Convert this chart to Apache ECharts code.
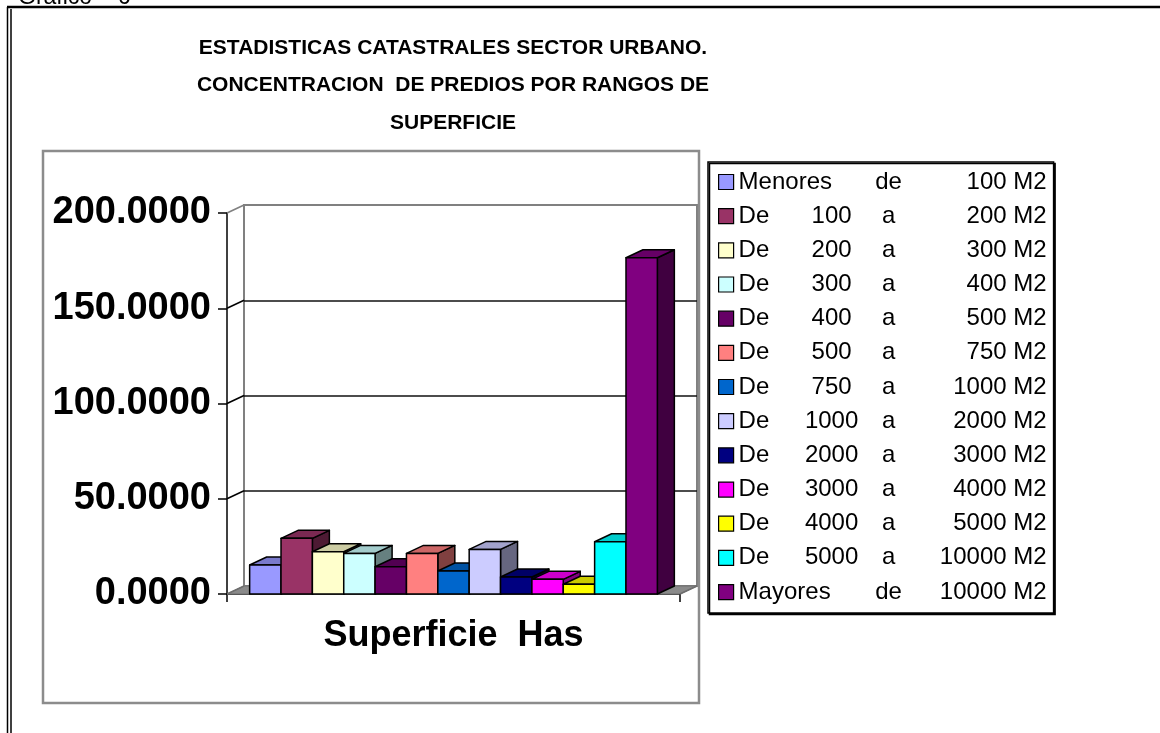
<!DOCTYPE html>
<html><head><meta charset="utf-8">
<script src="https://cdn.jsdelivr.net/npm/echarts@6/dist/echarts.min.js"></script>
<style>html,body{margin:0;padding:0;background:#fff}#c{width:1160px;height:733px}</style>
</head><body><div id="c"></div>
<script>
// ---- data ----
const categories = ['Superficie  Has'];
const rangeWord = ['Menores','De','De','De','De','De','De','De','De','De','De','De','Mayores'];
const rangeFrom = ['','100','200','300','400','500','750','1000','2000','3000','4000','5000',''];
const rangeConn = ['de','a','a','a','a','a','a','a','a','a','a','a','de'];
const rangeTo = ['100 M2','200 M2','300 M2','400 M2','500 M2','750 M2','1000 M2','2000 M2','3000 M2','4000 M2','5000 M2','10000 M2','10000 M2'];
const values = [15.2, 29.2, 22.2, 21.3, 14.3, 21.3, 12.1, 23.4, 8.9, 7.7, 5.1, 27.4, 176.5];
const colors = ['#9999FF','#993366','#FFFFCC','#CCFFFF','#660066','#FF8080','#0066CC','#CCCCFF','#000080','#FF00FF','#FFFF00','#00FFFF','#800080'];
const yTicks = [0, 50, 100, 150, 200];
const titleLines = ['ESTADISTICAS CATASTRALES SECTOR URBANO.', 'CONCENTRACION  DE PREDIOS POR RANGOS DE', 'SUPERFICIE'];

// ---- style constants ----
const DX = 17, DY = -8;
const FONT = "'Liberation Sans', Arial, sans-serif";
const N = values.length;

const names = rangeWord.map((w, i) => [w, rangeFrom[i], rangeConn[i], rangeTo[i]].filter(s => s).join(' '));
const nameIdx = {};
names.forEach((n, i) => nameIdx[n] = i);

function shade(hex, f) {
  const n = parseInt(hex.slice(1), 16);
  const r = Math.round(((n >> 16) & 255) * f), g = Math.round(((n >> 8) & 255) * f), b = Math.round((n & 255) * f);
  return 'rgb(' + r + ',' + g + ',' + b + ')';
}

const barSeries = values.map((v, i) => ({
  type: 'custom',
  name: names[i],
  xAxisIndex: 0, yAxisIndex: 0,
  itemStyle: { color: colors[i] },
  z: 5 + i,
  data: [[0, v]],
  renderItem: function (params, api) {
    const base = api.coord([0, 0]);
    const top = api.coord([0, api.value(1)]);
    const catW = api.size([1, 0])[0];
    const groupW = catW * 0.9;
    const bw = groupW / N;
    const x0 = base[0] - groupW / 2 + i * bw, x1 = x0 + bw;
    const y0 = base[1], y1 = top[1];
    const c = colors[i];
    const stroke = { stroke: '#000', lineWidth: 1.5, lineJoin: 'round' };
    return {
      type: 'group',
      children: [
        { type: 'polygon', shape: { points: [[x1, y1], [x1 + DX, y1 + DY], [x1 + DX, y0 + DY], [x1, y0]] },
          style: Object.assign({ fill: shade(c, 0.5) }, stroke) },
        { type: 'polygon', shape: { points: [[x0, y1], [x1, y1], [x1 + DX, y1 + DY], [x0 + DX, y1 + DY]] },
          style: Object.assign({ fill: shade(c, 0.8) }, stroke) },
        { type: 'rect', shape: { x: x0, y: y1, width: bw, height: y0 - y1 },
          style: Object.assign({ fill: c }, stroke) }
      ]
    };
  }
}));

const frameSeries = {
  type: 'custom',
  name: 'frame',
  xAxisIndex: 0, yAxisIndex: 0,
  z: 3,
  silent: true,
  data: yTicks.map(v => [0, v]),
  renderItem: function (params, api) {
    const v = api.value(1);
    const p = api.coord([0, v]);
    const catW = api.size([1, 0])[0];
    const l = p[0] - catW / 2, r = p[0] + catW / 2;
    const children = [];
    if (v === 0) {
      children.push({ type: 'polygon', shape: { points: [[l, p[1]], [r, p[1]], [r + DX, p[1] + DY], [l + DX, p[1] + DY]] },
        style: { fill: '#8a8a8a', stroke: '#6e6e6e', lineWidth: 1 } });
    }
    children.push({ type: 'line', shape: { x1: l, y1: p[1], x2: l + DX, y2: p[1] + DY },
      style: { stroke: v === 200 ? '#808080' : (v === 0 ? '#6e6e6e' : '#000'), lineWidth: 1.5 } });
    if (v === 0) {
      children.push({ type: 'line', shape: { x1: r, y1: p[1], x2: r + DX, y2: p[1] + DY },
        style: { stroke: '#6e6e6e', lineWidth: 1.5 } });
    }
    return { type: 'group', children: children };
  }
};

const chart = echarts.init(document.getElementById('c'), null, { renderer: 'canvas' });
chart.setOption({
  animation: false,
  backgroundColor: '#fff',
  title: {
    text: titleLines.join('\n'),
    left: 453, top: 29, padding: 0, textAlign: 'center',
    textStyle: { fontFamily: FONT, fontSize: 21, fontWeight: 'bold', color: '#000', lineHeight: 37.5 }
  },
  legend: {
    orient: 'vertical', left: 708, top: 162,
    padding: [8, 7, 9, 10],
    itemWidth: 15, itemHeight: 15, itemGap: 10.17,
    icon: 'rect',
    selectedMode: false,
    backgroundColor: '#fff', borderColor: '#000', borderWidth: 1.5,
    shadowColor: '#000', shadowOffsetX: 1.5, shadowOffsetY: 1.5, shadowBlur: 0,
    itemStyle: { borderColor: '#000', borderWidth: 1.2 },
    data: names,
    formatter: function (name) {
      const i = nameIdx[name];
      if (!rangeFrom[i]) return '{w2|' + rangeWord[i] + '}{a|' + rangeConn[i] + '}{r|' + rangeTo[i] + '}';
      return '{w|' + rangeWord[i] + '}{n|' + rangeFrom[i] + '}{a|' + rangeConn[i] + '}{r|' + rangeTo[i] + '}';
    },
    textStyle: {
      fontFamily: FONT, fontSize: 24, color: '#000',
      rich: {
        w: { fontFamily: FONT, fontSize: 24, width: 58, align: 'left', lineHeight: 24 },
        w2: { fontFamily: FONT, fontSize: 24, width: 128, align: 'left', lineHeight: 24 },
        n: { fontFamily: FONT, fontSize: 24, width: 70, align: 'right', lineHeight: 24 },
        a: { fontFamily: FONT, fontSize: 24, width: 44, align: 'center', lineHeight: 24 },
        r: { fontFamily: FONT, fontSize: 24, width: 136, align: 'right', lineHeight: 24 }
      }
    }
  },
  grid: [
    { left: 227, top: 213, width: 453, height: 381, outerBoundsMode: 'none' },
    { left: 244, top: 205, width: 453, height: 381, show: true, backgroundColor: '#fff',
      borderColor: '#808080', borderWidth: 2, outerBoundsMode: 'none', z: -1 }
  ],
  xAxis: [
    { type: 'category', gridIndex: 0, data: categories, boundaryGap: true,
      axisLine: { show: true, lineStyle: { color: '#000', width: 1.5 } },
      axisTick: { show: true, length: 8, alignWithLabel: false, lineStyle: { color: '#000', width: 1.5 } },
      axisLabel: { fontFamily: FONT, fontSize: 36, fontWeight: 'bold', color: '#000', margin: 24 },
      splitLine: { show: false } },
    { type: 'category', gridIndex: 1, data: categories, show: false }
  ],
  yAxis: [
    { type: 'value', gridIndex: 0, min: 0, max: 200, interval: 50,
      axisLine: { show: true, lineStyle: { color: '#000', width: 1.5 } },
      axisTick: { show: true, length: 9, lineStyle: { color: '#000', width: 1.5 } },
      axisLabel: { fontFamily: FONT, fontSize: 38, fontWeight: 'bold', color: '#000', margin: 16,
        formatter: v => v.toFixed(4) },
      splitLine: { show: false } },
    { type: 'value', gridIndex: 1, min: 0, max: 200, interval: 50,
      axisLine: { show: false }, axisTick: { show: false }, axisLabel: { show: false },
      splitLine: { show: true, lineStyle: { color: ['#808080', '#111', '#111', '#111', '#808080'], width: 1.6 } } }
  ],
  graphic: [
    { type: 'rect', shape: { x: 43, y: 151, width: 656, height: 552 }, style: { fill: null, stroke: '#8c8c8c', lineWidth: 2.5 }, z: 1, silent: true },
    { type: 'line', shape: { x1: 7, y1: 7, x2: 1160, y2: 7 }, style: { stroke: '#000', lineWidth: 2.5 }, silent: true },
    { type: 'line', shape: { x1: 7.5, y1: 7, x2: 7.5, y2: 733 }, style: { stroke: '#000', lineWidth: 1.5 }, silent: true },
    { type: 'line', shape: { x1: 11, y1: 9, x2: 11, y2: 733 }, style: { stroke: '#000', lineWidth: 1.5 }, silent: true },
    { type: 'text', x: 18, y: -14, style: { text: 'Grafico    6', font: '23px ' + FONT, fill: '#000', textVerticalAlign: 'top' }, silent: true }
  ],
  series: [frameSeries].concat(barSeries)
});
</script></body></html>
